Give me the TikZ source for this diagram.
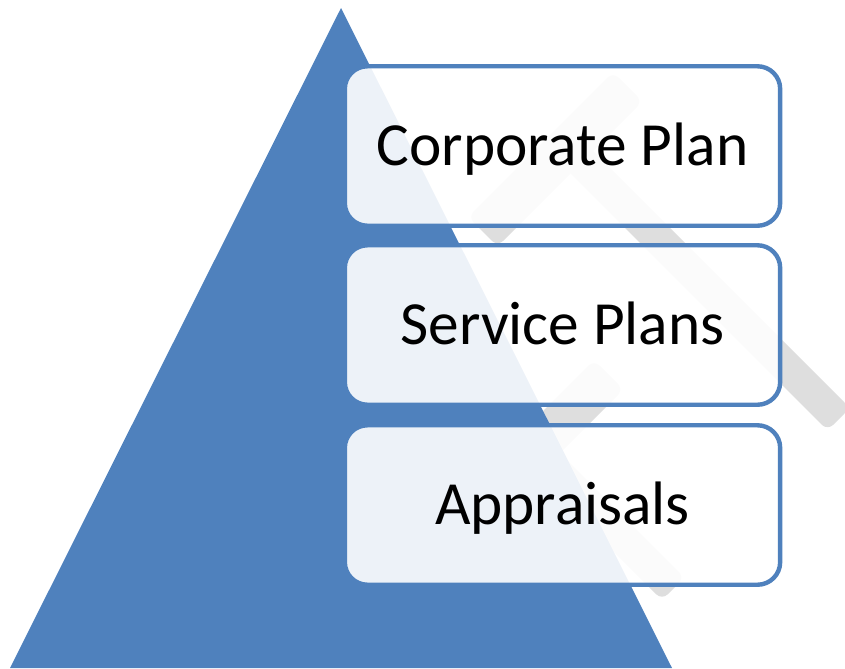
\documentclass[tikz,border=0pt]{standalone}
\usepackage{fontspec}
\setmainfont{Carlito}
\definecolor{tri}{HTML}{4F81BD}
\definecolor{gav}{HTML}{DEDEDE}
\tikzset{
  tier/.style={draw=tri, line width=3.3pt, fill=white, fill opacity=0.9, text opacity=1,
    rounded corners=17pt, minimum width=326.5pt, minimum height=119.6pt,
    inner sep=0pt, text height=28.5pt, text depth=0pt, font=\fontsize{46}{55}\selectfont, text=black},
  gavel/.style={fill=gav, draw=none, rounded corners=6pt}
}
\begin{document}
\begin{tikzpicture}[x=0.75pt,y=-0.75pt]
\useasboundingbox (0,0) rectangle (845,668);
\clip (0,0) rectangle (845,668);
% gavel watermark (behind)
\fill[gavel] (613,72) -- (642.5,101.5) -- (497.5,246.5) -- (468,217) -- cycle;
\fill[gavel] (578.25,136.25) -- (850,408) -- (827.5,430.5) -- (555.75,158.75) -- cycle;
\fill[gavel] (594,360) -- (623.5,389.5) -- (478.5,534.5) -- (449,505) -- cycle;
\fill[gavel] (545.25,438.25) -- (684.5,577.5) -- (662,600) -- (522.75,460.75) -- cycle;
% pyramid
\fill[tri] (341,8) -- (672,668) -- (10,668) -- cycle;
% tiers
\node[tier] (corp) at (562.5,146) {Corporate Plan};
\node[tier] (serv) at (562.5,325) {Service Plans};
\node[tier] (appr) at (562.5,505) {Appraisals};
\end{tikzpicture}
\end{document}
